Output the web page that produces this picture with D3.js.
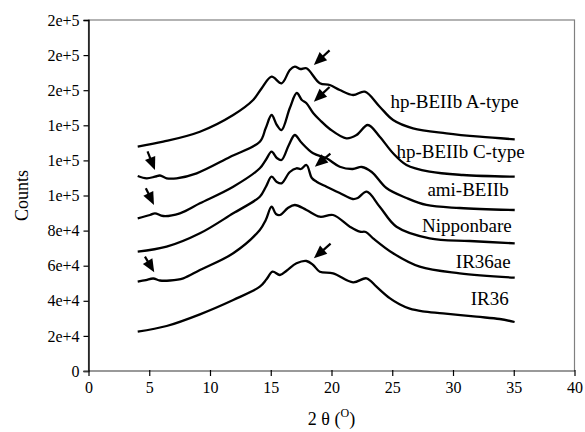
<!DOCTYPE html>
<html><head><meta charset="utf-8">
<script src="https://cdn.jsdelivr.net/npm/d3@7"></script>
<style>
html,body{margin:0;padding:0;background:#fff;}
svg text{font-family:"Liberation Serif","Times New Roman",serif !important;fill:#000;}
</style></head>
<body><svg id="c" width="585" height="432"></svg>
<script>
// ---- data ----
const seriesNames = ["hp-BEIIb A-type","hp-BEIIb C-type","ami-BEIIb","Nipponbare","IR36ae","IR36"];

const hpA_x = [4.05,6.15,9.17,11.91,13.55,14.27,15.07,15.89,16.57,16.98,17.43,17.94,19.04,19.86,20.68,21.78,22.74,23.97,25.07,26.71,29.46,32.2,35.08];
const hpA_y = [127810,130650,136350,145870,154420,161250,167690,163930,171510,173390,172080,172480,163930,162960,160110,157260,159150,150600,143020,138290,135440,133500,132020];

const hpC_x = [4.05,4.79,5.47,5.88,6.43,7.25,8.9,11.64,14.1,14.59,15.07,15.5,15.89,16.57,17.14,17.56,17.94,18.49,19.04,19.86,21.23,22.06,22.99,23.97,25.07,26.17,28.08,30.82,35.08];
const hpC_y = [111110,109800,110710,111400,109800,109800,112650,121940,130650,138460,145870,140170,137320,149860,158400,154420,152530,147010,143020,137890,132590,134470,140170,133500,124040,117380,113560,111680,110710];

const ami_x = [4.05,5.06,5.47,6.15,7.52,9.17,11.91,14.1,14.59,15.07,15.5,15.89,16.49,16.98,17.48,18.49,19.59,20.68,21.75,22.49,23.31,24.52,26.17,27.81,30.55,35.08];
const ami_y = [87010,88890,89860,88320,89860,95550,105010,115500,120230,124960,121370,120230,128780,134470,130490,124040,121200,116410,115100,116240,113390,104270,98580,94590,92880,91740];

const nip_x = [4.05,6.43,9.17,11.91,14.1,14.59,15.07,15.5,15.89,16.57,17.12,17.48,17.94,18.38,18.77,19.59,20.68,21.75,22.16,22.9,23.97,25.35,28.08,31.37,35.08];
const nip_y = [67980,70830,78460,89860,99320,104840,110710,107690,106950,113390,115500,115100,117380,109970,107860,105010,101420,98010,98580,102170,93620,82220,75610,74070,72760];

const ae_x = [4.05,4.73,5.33,5.88,6.7,7.8,9.17,11.91,14.1,14.59,15.07,15.43,15.76,16.41,16.98,17.94,19.04,20.13,21.51,22.33,22.82,23.42,25.07,27.26,30.55,35.08];
const ae_y = [50880,51850,52710,51570,51570,52820,57550,67070,80340,86040,93620,89460,88890,92880,94590,91740,87920,88890,82220,79370,79200,75610,67070,59430,55670,53160];

const ir_x = [4.05,6.43,9.17,11.91,14.1,14.65,15.15,15.75,16.3,17.12,17.94,18.49,19.04,20.13,21.78,22.88,23.7,24.79,25.6,26.44,27.5,29.18,31.92,33.84,35.07];
const ir_y = [22400,25640,32300,40460,48030,52250,56580,54700,57150,61370,62680,60400,56580,55670,50540,52820,48030,41500,38000,35500,34000,32880,30940,29630,27920];

const xTicks = [0,5,10,15,20,25,30,35,40];
const xTickLabels = ["0","5","10","15","20","25","30","35","40"];
const yTicks = [0,20000,40000,60000,80000,100000,120000,140000,160000,180000,200000];
const yTickLabels = ["0","2e+4","4e+4","6e+4","8e+4","1e+5","1e+5","1e+5","2e+5","2e+5","2e+5"];

// label anchor (right edge, baseline) in data units
const labelX = [35.4,35.9,34.58,34.83,34.75,34.58];
const labelY = [149860,121370,99720,79200,58690,37610];

// arrows: tail and tip in data units
const arrowTailX = [4.92,4.79,4.73,19.72,19.72,19.78,19.8];
const arrowTailY = [124050,103130,64220,181940,161080,123080,71790];
const arrowTipX  = [5.47,5.39,5.41,18.55,18.55,18.63,18.55];
const arrowTipY  = [114530,94590,56240,174360,153450,116410,64220];

// ---- chart ----
const FONT = '"Liberation Serif","Times New Roman",serif';
const svg = d3.select("#c");
const L=88.5, R=574.5, T=20, B=371;
const x = d3.scaleLinear([0,40],[L,R]);
const y = d3.scaleLinear([0,200000],[B,T]);

// plot frame (gray)
svg.append("rect").attr("x",L).attr("y",T).attr("width",R-L).attr("height",B-T)
  .attr("fill","none").attr("stroke","#808080").attr("stroke-width",1.2);

// y axis
const gy = svg.append("g").attr("transform",`translate(${L},0)`)
  .call(d3.axisLeft(y).tickValues(yTicks).tickSize(5).tickPadding(4)
    .tickFormat((d,i)=>yTickLabels[i]));
gy.attr("font-family",FONT);
gy.select(".domain").attr("stroke","#000").attr("stroke-width",1.4);
gy.selectAll(".tick line").attr("stroke","#000").attr("stroke-width",1.2);
gy.selectAll(".tick text").attr("font-size",16).style("font-family",FONT);

// x axis
const gx = svg.append("g").attr("transform",`translate(0,${B})`)
  .call(d3.axisBottom(x).tickValues(xTicks).tickSize(5).tickPadding(6)
    .tickFormat((d,i)=>xTickLabels[i]));
gx.attr("font-family",FONT);
gx.select(".domain").attr("stroke","#808080").attr("stroke-width",1.2).attr("d",`M${L-5},0H${R}`);
gx.selectAll(".tick line").attr("stroke","#000").attr("stroke-width",1.2).attr("y1",-1);
gx.selectAll(".tick text").attr("font-size",16).style("font-family",FONT);

// axis titles
svg.append("text").attr("transform",`translate(28,${(T+B)/2}) rotate(-90)`)
  .attr("text-anchor","middle").attr("font-size",18).style("font-family",FONT).text("Counts");
const xt = svg.append("text").attr("x",(L+R)/2).attr("y",425).attr("text-anchor","middle")
  .attr("font-size",18).style("font-family",FONT);
xt.append("tspan").text("2 θ (");
xt.append("tspan").attr("font-size",12).attr("dy",-8).text("O");
xt.append("tspan").attr("dy",8).text(")");

// curves
const series = [[hpA_x,hpA_y],[hpC_x,hpC_y],[ami_x,ami_y],[nip_x,nip_y],[ae_x,ae_y],[ir_x,ir_y]];
const line = d3.line().x(d=>x(d[0])).y(d=>y(d[1])).curve(d3.curveCatmullRom.alpha(0.5));
series.forEach(([xs,ys])=>{
  svg.append("path").datum(xs.map((v,i)=>[v,ys[i]]))
    .attr("d",line).attr("fill","none").attr("stroke","#000").attr("stroke-width",2.3)
    .attr("stroke-linejoin","round");
});

// labels
seriesNames.forEach((n,i)=>{
  svg.append("text").attr("x",x(labelX[i])).attr("y",y(labelY[i]))
    .attr("text-anchor","end").attr("font-size",19).style("font-family",FONT).text(n);
});

// arrows
arrowTailX.forEach((_,i)=>{
  const x0=x(arrowTailX[i]), y0=y(arrowTailY[i]), x1=x(arrowTipX[i]), y1=y(arrowTipY[i]);
  const dx=x1-x0, dy=y1-y0, len=Math.hypot(dx,dy), ux=dx/len, uy=dy/len;
  const hl=13, hw=5.5;
  const bx=x1-ux*hl, by=y1-uy*hl;
  svg.append("line").attr("x1",x0-ux*2).attr("y1",y0-uy*2).attr("x2",bx+ux*2).attr("y2",by+uy*2)
    .attr("stroke","#000").attr("stroke-width",2.2);
  svg.append("path").attr("d",`M${x1},${y1}L${bx-uy*hw},${by+ux*hw}L${bx+uy*hw},${by-ux*hw}Z`).attr("fill","#000");
});
</script></body></html>
